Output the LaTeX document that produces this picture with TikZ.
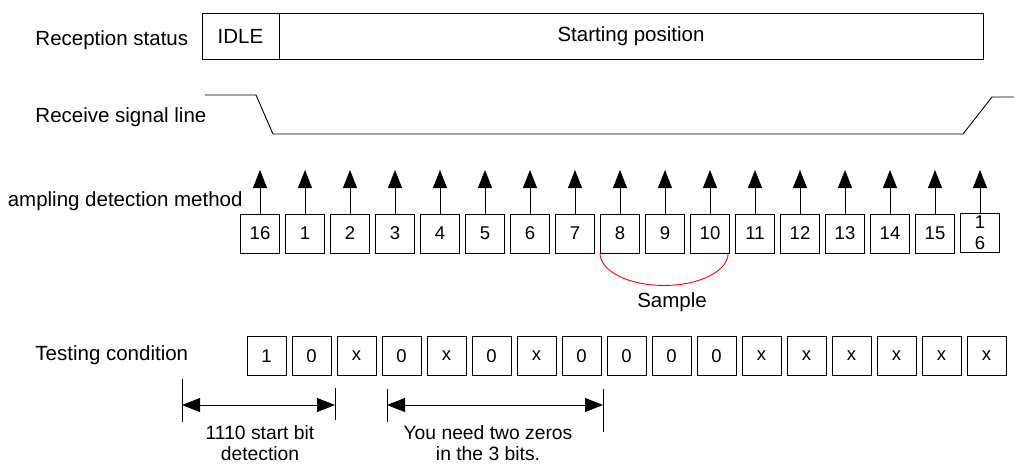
\documentclass[tikz,border=0pt]{standalone}
\usepackage{fontspec}
\setmainfont{Liberation Sans}
\usetikzlibrary{arrows.meta}
\begin{document}
\begin{tikzpicture}[x=1pt,y=-1pt, line width=0.9pt,
  lbl/.style={font=\fontsize{20.5}{23}\selectfont, anchor=west, inner sep=0pt},
  stat/.style={draw, minimum height=46pt, inner sep=0pt, font=\fontsize{20.5}{23}\selectfont},
  cell/.style={draw, minimum width=39pt, minimum height=39pt, inner sep=0pt, font=\fontsize{18.5}{21}\selectfont},
  uparrow/.style={-{Triangle[length=18pt,width=14pt]}},
  dimarrow/.style={{Triangle[length=18pt,width=14pt]}-{Triangle[length=18pt,width=14pt]}},
  note/.style={font=\fontsize{19.3}{21}\selectfont, align=center, inner sep=0pt}]
\useasboundingbox (0,0) rectangle (1014,464);

% Reception status
\node[lbl] (rs) at (35,40) {Reception status};
\node[stat, minimum width=77pt] (idle) at (240.5,36) {IDLE};
\node[stat, minimum width=704pt] (start) at (631,36) {Starting position};

% Receive signal line
\node[lbl] (rsl) at (35,117) {Receive signal line};
\coordinate (a0) at (205,95);
\coordinate (a1) at (256,95);
\coordinate (a2) at (273,134);
\coordinate (a3) at (963,134);
\coordinate (a4) at (992,97);
\coordinate (a5) at (1014,97);
\draw (a0) -- (a1) -- (a2) -- (a3) -- (a4) -- (a5);

% Sampling detection method
\node[lbl, anchor=east] (sdm) at (243,201) {ampling detection method};
\foreach \i/\t in {0/16,1/1,2/2,3/3,4/4,5/5,6/6,7/7,8/8,9/9,10/10,11/11,12/12,13/13,14/14,15/15}{
  \node[cell] (s\i) at (260+45*\i,233.5) {\t};
  \coordinate (p\i) at (260+45*\i,170);
  \draw[uparrow] (s\i.north) -- (p\i);
}
\node[cell, align=center, font=\fontsize{18.5}{21}\selectfont] (s16) at (980,233) {1\\6};
\coordinate (p16) at (980,170);
\draw[uparrow] (s16.north) -- (p16);

% Sample arc
\draw[red] (s8.south west) arc[start angle=180, end angle=360, x radius=64pt, y radius=32pt];
\node[note, font=\fontsize{20.5}{23}\selectfont] (smp) at (672,302) {Sample};

% Testing condition
\node[lbl] (tc) at (35,355) {Testing condition};
\foreach \i/\t in {0/1,1/0,2/x,3/0,4/x,5/0,6/x,7/0,8/0,9/0,10/0,11/x,12/x,13/x,14/x,15/x,16/x}{
  \node[cell] (t\i) at (266.5+45*\i,356) {\t};
}

% Dimension 1
\coordinate (d1a) at (182,379);
\coordinate (d1b) at (182,422);
\coordinate (d2a) at (335,388);
\coordinate (d2b) at (335,420);
\coordinate (d1m) at (182,405);
\coordinate (d2m) at (335,405);
\draw (d1a) -- (d1b);
\draw (d2a) -- (d2b);
\draw[dimarrow] (d1m) -- (d2m);
\node[note] (n1) at (260,443) {1110 start bit\\detection};

% Dimension 2
\coordinate (e1a) at (387,389);
\coordinate (e1b) at (387,422);
\coordinate (e2a) at (603,389);
\coordinate (e2b) at (603,432);
\coordinate (e1m) at (387,405);
\coordinate (e2m) at (603,405);
\draw (e1a) -- (e1b);
\draw (e2a) -- (e2b);
\draw[dimarrow] (e1m) -- (e2m);
\node[note] (n2) at (488,443) {You need two zeros\\in the 3 bits.};
\end{tikzpicture}
\end{document}
